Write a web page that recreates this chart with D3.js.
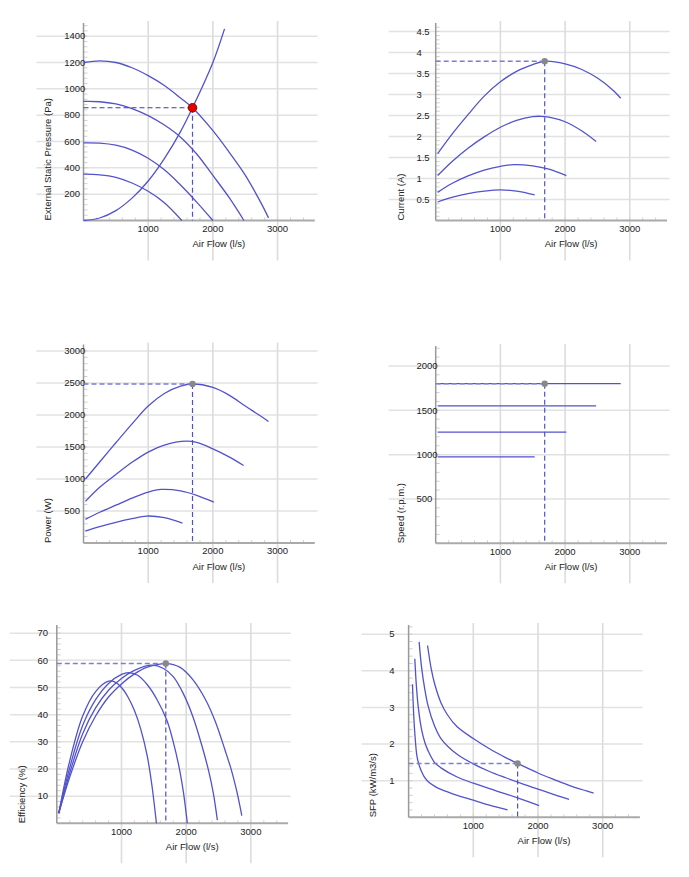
<!DOCTYPE html>
<html>
<head>
<meta charset="utf-8">
<script src="https://cdn.jsdelivr.net/npm/d3@7"></script>
<style>
  body { margin: 0; background: #fff; }
  text { font-family: Arial, "Liberation Sans", sans-serif; font-size: 9.5px; fill: #222; }
</style>
</head>
<body>
<svg id="chart" width="689" height="877"></svg>
<script>
// ---- values (flow in l/s) ----
const flowTicks = [1000, 2000, 3000];
const opFlow = 1685;

const pressureA = [[0,1200],[250,1212],[500,1200],[750,1160],[1000,1100],[1250,1025],[1500,930],[1685,856],[2000,682],[2250,520],[2500,345],[2750,128],[2860,20]];
const pressureB = [[0,904],[250,902],[500,885],[750,850],[1000,797],[1250,725],[1500,633],[1750,505],[2000,342],[2250,175],[2480,0]];
const pressureC = [[0,590],[250,588],[500,572],[750,535],[1000,473],[1250,385],[1500,270],[1750,140],[2000,0]];
const pressureD = [[0,352],[250,347],[500,328],[750,285],[1000,222],[1250,135],[1520,0]];
const systemCurve = [[0,0],[250,19],[500,75],[750,170],[1000,300],[1250,470],[1500,675],[1685,856],[2000,1200],[2180,1455]];

const currentA = [[30,1.59],[250,2.05],[500,2.52],[750,2.96],[1000,3.3],[1250,3.55],[1500,3.71],[1685,3.79],[2000,3.73],[2250,3.6],[2500,3.39],[2750,3.09],[2860,2.91]];
const currentB = [[30,1.07],[250,1.4],[500,1.72],[750,1.99],[1000,2.22],[1250,2.38],[1500,2.47],[1620,2.48],[1750,2.46],[2000,2.35],[2250,2.14],[2480,1.88]];
const currentC = [[30,0.67],[250,0.88],[500,1.06],[750,1.2],[1000,1.29],[1200,1.33],[1500,1.3],[1750,1.22],[2020,1.07]];
const currentD = [[30,0.44],[250,0.55],[500,0.64],[750,0.7],[1000,0.73],[1250,0.7],[1530,0.61]];

const powerA = [[30,1000],[250,1265],[500,1565],[750,1860],[1000,2140],[1250,2335],[1500,2450],[1685,2483],[2000,2430],[2250,2310],[2500,2140],[2750,1975],[2860,1896]];
const powerB = [[30,650],[250,870],[500,1070],[750,1260],[1000,1420],[1250,1530],[1590,1590],[1750,1570],[2000,1470],[2250,1345],[2475,1210]];
const powerC = [[30,369],[250,480],[500,590],[750,700],[1000,794],[1200,836],[1500,815],[1750,745],[2015,639]];
const powerD = [[30,187],[250,255],[500,322],[750,380],[975,421],[1250,395],[1530,312]];

const speedA = [[30,1800],[2860,1800]];
const speedB = [[30,1550],[2480,1550]];
const speedC = [[30,1253],[2020,1253]];
const speedD = [[30,975],[1530,975]];

const effA = [[30,3.7],[200,17],[400,30],[600,39.5],[800,46.5],[1000,51.3],[1200,55],[1400,57.5],[1690,58.8],[1900,57.5],[2100,53],[2300,45.5],[2450,37.5],[2600,27],[2700,19.5],[2780,12],[2860,2.8]];
const effB = [[30,3.7],[200,18.5],[400,33],[600,42.5],[800,49],[1000,53.3],[1200,56.3],[1465,58.2],[1650,57],[1800,54],[1950,48],[2100,39.5],[2250,28],[2350,19],[2420,11],[2482,1.2]];
const effC = [[30,3.7],[200,20.5],[400,36],[600,45.5],[800,51.5],[1000,54.8],[1110,55.5],[1250,54.5],[1400,51],[1550,45.5],[1700,38],[1800,30],[1900,19.5],[1960,11],[2018,0]];
const effD = [[30,3.7],[200,23],[400,39.5],[600,48.5],[800,52.3],[900,52],[1000,50],[1100,46.5],[1200,41.5],[1300,34.5],[1400,24.5],[1470,14],[1540,0]];

const sfpA = [[293,4.69],[350,4.05],[400,3.66],[500,3.13],[600,2.8],[750,2.47],[1000,2.15],[1250,1.87],[1500,1.63],[1685,1.47],[2000,1.21],[2250,1.03],[2500,0.86],[2750,0.72],[2860,0.66]];
const sfpB = [[163,4.79],[200,4.1],[250,3.5],[300,3.05],[400,2.5],[500,2.15],[750,1.72],[1000,1.46],[1250,1.25],[1500,1.08],[1750,0.92],[2000,0.77],[2250,0.62],[2480,0.49]];
const sfpC = [[96,4.33],[120,3.6],[150,3.0],[200,2.4],[250,2.05],[300,1.82],[400,1.5],[500,1.35],[750,1.1],[1000,0.93],[1250,0.78],[1500,0.64],[1750,0.49],[2018,0.32]];
const sfpD = [[60,3.63],[80,2.75],[100,2.2],[125,1.72],[150,1.5],[175,1.36],[200,1.25],[250,1.08],[300,0.98],[400,0.85],[500,0.76],[750,0.6],[1000,0.47],[1250,0.33],[1530,0.2]];

const pressureTicks = [200, 400, 600, 800, 1000, 1200, 1400];
const currentTicks = [0.5, 1, 1.5, 2, 2.5, 3, 3.5, 4, 4.5];
const powerTicks = [500, 1000, 1500, 2000, 2500, 3000];
const speedTicks = [500, 1000, 1500, 2000];
const effTicks = [10, 20, 30, 40, 50, 60, 70];
const sfpTicks = [1, 2, 3, 4, 5];

// ---- layout of the six panels (pixels) ----
const panels = [
  { ox: 83.5, oy: 220.5, top: 23, yMax: 1500, ticks: pressureTicks, minor: 40,
    title: "External Static Pressure (Pa)", curves: [pressureA, pressureB, pressureC, pressureD, systemCurve],
    opValue: 856, red: true },
  { ox: 435.7, oy: 220.5, top: 23, yMax: 4.7, ticks: currentTicks, minor: 0.1,
    title: "Current (A)", curves: [currentA, currentB, currentC, currentD], opValue: 3.79 },
  { ox: 83.5, oy: 543, top: 344.5, yMax: 3100, ticks: powerTicks, minor: 100,
    title: "Power (W)", curves: [powerA, powerB, powerC, powerD], opValue: 2483 },
  { ox: 435.7, oy: 543.3, top: 346, yMax: 2225, ticks: speedTicks, minor: 100,
    title: "Speed (r.p.m.)", curves: [speedA, speedB, speedC, speedD], opValue: 1800 },
  { ox: 56.8, oy: 823.3, top: 625, yMax: 73, ticks: effTicks, minor: 2,
    title: "Efficiency (%)", curves: [effA, effB, effC, effD], opValue: 58.8 },
  { ox: 408.6, oy: 817.3, top: 625, yMax: 5.25, ticks: sfpTicks, minor: 0.2,
    title: "SFP (kW/m3/s)", curves: [sfpA, sfpB, sfpC, sfpD], opValue: 1.47 }
];

const svg = d3.select("#chart");
const lineColor = "#5252cc";

panels.forEach(p => {
  const g = svg.append("g");
  const x = d3.scaleLinear().domain([0, 3560]).range([p.ox, p.ox + 230.3]);
  const y = d3.scaleLinear().domain([0, p.yMax]).range([p.oy, p.top]);

  // grid
  g.selectAll(".hg").data(p.ticks).enter().append("line")
    .attr("x1", p.ox - 47).attr("x2", p.ox + 234)
    .attr("y1", d => y(d)).attr("y2", d => y(d))
    .attr("stroke", "#e2e2e2").attr("stroke-width", 1.5);
  g.selectAll(".vg").data(flowTicks).enter().append("line")
    .attr("x1", d => x(d)).attr("x2", d => x(d))
    .attr("y1", p.top - 2).attr("y2", p.oy + 40)
    .attr("stroke", "#dcdcdc").attr("stroke-width", 1.6);

  // minor ticks
  const yMinor = d3.range(p.minor, p.yMax, p.minor);
  g.selectAll(".ym").data(yMinor).enter().append("line")
    .attr("x1", p.ox).attr("x2", p.ox + 4)
    .attr("y1", d => y(d)).attr("y2", d => y(d))
    .attr("stroke", "#d0d0d0").attr("stroke-width", 1);
  g.selectAll(".xm").data(d3.range(200, 3560, 200)).enter().append("line")
    .attr("x1", d => x(d)).attr("x2", d => x(d))
    .attr("y1", p.oy - 3).attr("y2", p.oy)
    .attr("stroke", "#d0d0d0").attr("stroke-width", 1);

  // axes
  g.append("line").attr("x1", p.ox).attr("x2", x(3560) + 1)
    .attr("y1", p.oy).attr("y2", p.oy)
    .attr("stroke", "#aaa").attr("stroke-width", 2);
  g.append("line").attr("x1", p.ox).attr("x2", p.ox)
    .attr("y1", p.top).attr("y2", p.oy)
    .attr("stroke", "#999").attr("stroke-width", 1.5);

  // tick labels
  g.selectAll(".yl").data(p.ticks).enter().append("text")
    .attr("x", p.ox - 19.3).attr("y", d => y(d)).attr("dy", "0.35em")
    .text(d => String(d));
  g.selectAll(".xl").data(flowTicks).enter().append("text")
    .attr("x", d => x(d)).attr("y", p.oy + 11.3).attr("text-anchor", "middle")
    .text(d => d);

  g.append("text").attr("x", p.ox + 109).attr("y", p.oy + 26.5).text("Air Flow (l/s)");
  g.append("text")
    .attr("transform", `translate(${p.ox - 35.5},${p.oy}) rotate(-90)`)
    .attr("dy", "0.35em").text(p.title);

  // curves
  const line = d3.line().x(d => x(d[0])).y(d => y(d[1])).curve(d3.curveCatmullRom.alpha(0.5));
  g.selectAll(".c").data(p.curves).enter().append("path")
    .attr("d", line).attr("fill", "none")
    .attr("stroke", lineColor).attr("stroke-width", 1.3);

  // operating point
  g.append("line")
    .attr("x1", p.ox).attr("x2", x(opFlow))
    .attr("y1", y(p.opValue)).attr("y2", y(p.opValue))
    .attr("stroke", p.red ? "#3c3cb0" : "#7b7be0").attr("stroke-width", p.red ? 1.1 : 1.6)
    .attr("stroke-dasharray", "5,3");
  g.append("line")
    .attr("x1", x(opFlow)).attr("x2", x(opFlow))
    .attr("y1", y(p.opValue)).attr("y2", p.oy)
    .attr("stroke", "#5050cc").attr("stroke-width", 1.2)
    .attr("stroke-dasharray", "5,3");
  g.append("circle").attr("cx", x(opFlow)).attr("cy", y(p.opValue))
    .attr("r", p.red ? 4.3 : 3.2)
    .attr("fill", p.red ? "#e60000" : "#888")
    .attr("stroke", p.red ? "#8a0000" : "none").attr("stroke-width", 1);
});
</script>
</body>
</html>
